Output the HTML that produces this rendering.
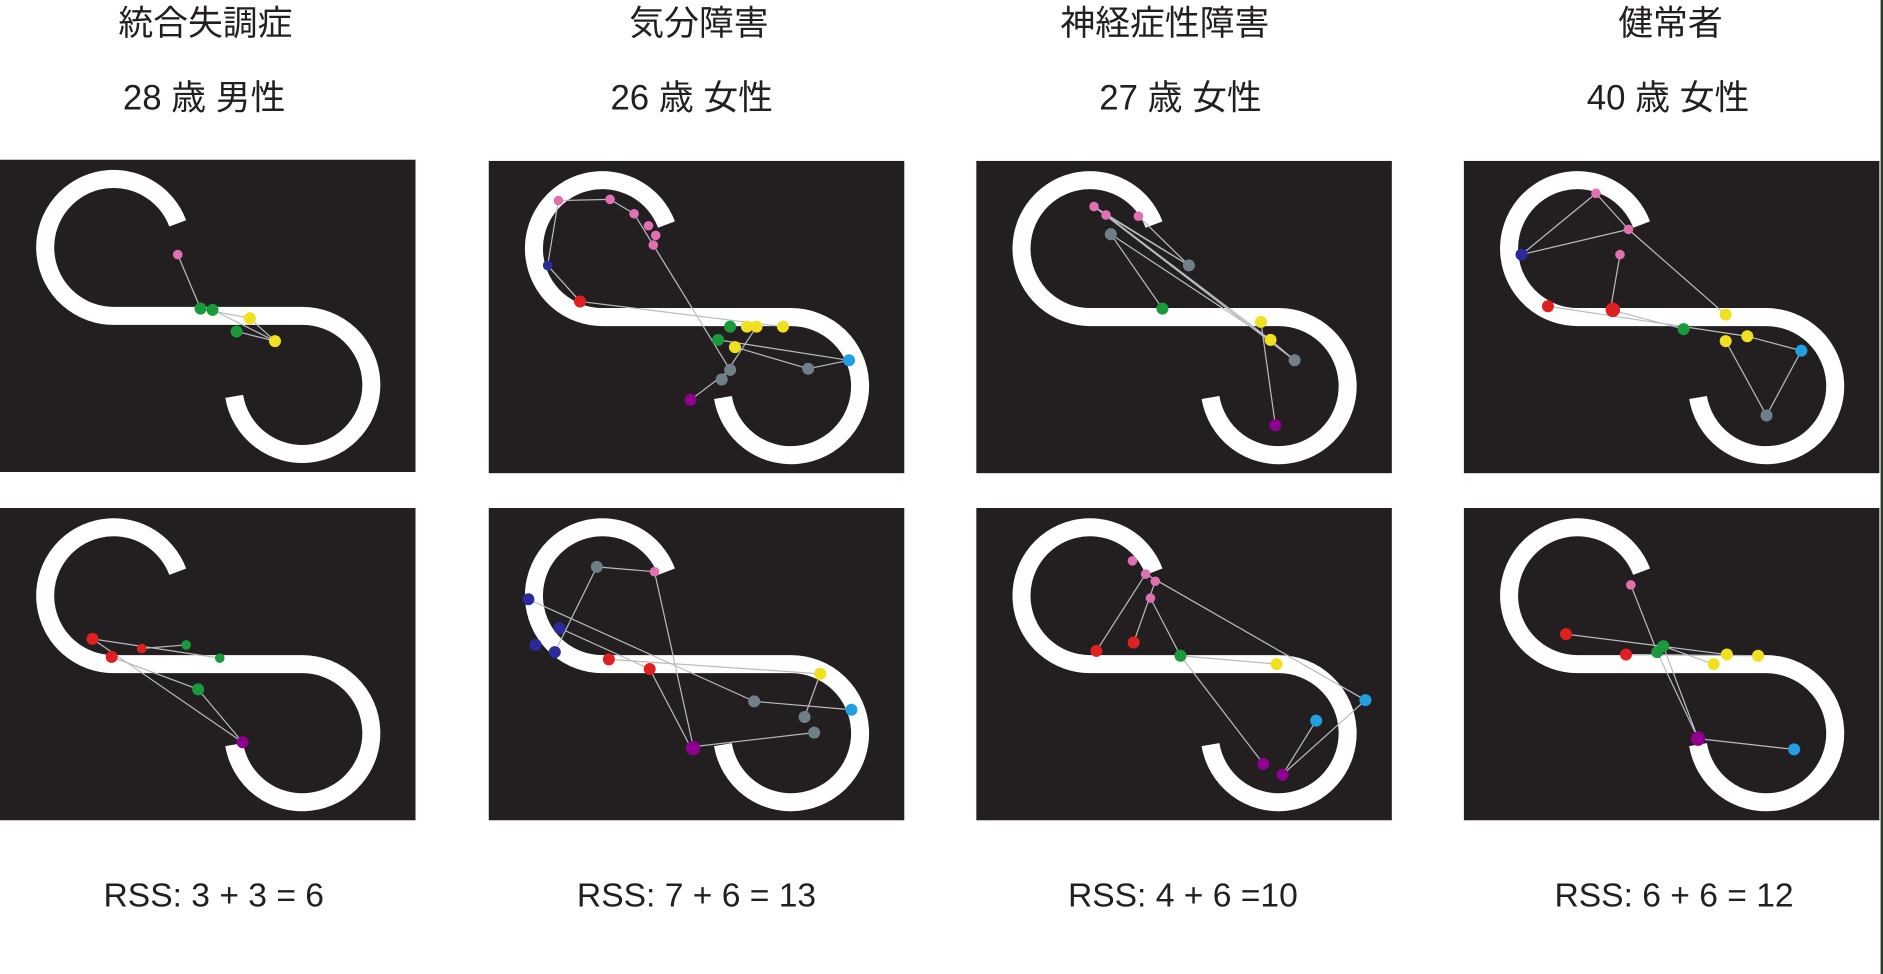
<!DOCTYPE html>
<html><head><meta charset="utf-8"><style>
html,body{margin:0;padding:0;background:#fff;width:1883px;height:974px;overflow:hidden}
svg{display:block}
text{font-family:"Liberation Sans","Noto Sans CJK JP",sans-serif;fill:#231f20}
</style></head><body>
<svg width="1883" height="974" viewBox="0 0 1568 811" preserveAspectRatio="none" xmlns="http://www.w3.org/2000/svg">
<defs>
<g id="S">
<rect x="0" y="0" width="346" height="260" fill="#231f20"/>
<path d="M148,53 A57,57 0 1 0 95,130 L252,130 A57.5,57.5 0 1 1 195,197" fill="none" stroke="#fff" stroke-width="15"/>
</g>
</defs>
<rect x="1566" y="0" width="2" height="811" fill="#2a3a2a"/>
<g text-anchor="middle" font-size="29">
<text x="171" y="29">統合失調症</text>
<text x="582" y="29">気分障害</text>
<text x="970" y="29">神経症性障害</text>
<text x="1391" y="29">健常者</text>
<text x="170" y="91">28 歳 男性</text>
<text x="576" y="91">26 歳 女性</text>
<text x="983" y="91">27 歳 女性</text>
<text x="1389" y="91">40 歳 女性</text>
<text x="178" y="755" font-size="28">RSS: 3 + 3 = 6</text>
<text x="580" y="755" font-size="28">RSS: 7 + 6 = 13</text>
<text x="985" y="755" font-size="28">RSS: 4 + 6 =10</text>
<text x="1394" y="755" font-size="28">RSS: 6 + 6 = 12</text>
</g>
<use href="#S" x="0" y="133"/>
<use href="#S" x="407" y="134"/>
<use href="#S" x="813" y="134"/>
<use href="#S" x="1219" y="134"/>
<use href="#S" x="0" y="423"/>
<use href="#S" x="407" y="423"/>
<use href="#S" x="813" y="423"/>
<use href="#S" x="1219" y="423"/>
<g stroke="#b8bcc0" stroke-width="1" fill="none">
<path d="M148,212L167,257M167,257L208,265M177,258L229,284M208,265L229,284M197,276L229,284"/>
<path d="M77,532L183,548M93,547L165,574M77,532L202,618M165,574L202,618M155,537L118,540"/>
<path d="M465,167L508,166M508,166L528,178M528,178L544,204M465,167L456,221M456,221L483,251M483,251L652,272M544,204L608,308M598,283L707,300M612,289L673,307M673,307L707,300M575,333L608,308M630,272L601,316"/>
<path d="M497,472L545,476M497,472L462,543M545,476L578,625M440,499L628,584M466,523L541,557M507,549L683,561M628,584L709,591M683,561L670,597M575,622L678,610M541,557L575,622"/>
<path d="M911,172L1078,300M921,179L1058,283M925,195L1058,283M990,221L948,180M925,195L968,257M1050,268L1062,354M1058,283L1078,300M911,172L990,221M921,179L990,221"/>
<path d="M954,478L913,542M962,484L944,535M954,478L1137,583M983,546L1063,553M983,546L1052,636M1096,600L1068,645M1137,583L1068,645M958,498L983,546"/>
<path d="M1329,161L1267,212M1329,161L1356,191M1356,191L1267,212M1356,191L1437,262M1349,212L1341,258M1289,255L1455,280M1341,258L1402,274M1437,284L1471,346M1471,346L1500,292M1455,280L1500,292"/>
<path d="M1304,528L1438,545M1358,487L1380,543M1354,545L1464,546M1380,543L1414,615M1414,615L1494,624M1385,538L1427,553M1385,538L1414,615"/>
</g>
<g>
<circle cx="148" cy="212" r="4" fill="#e070b0"/>
<circle cx="167" cy="257" r="5" fill="#1a9a3a"/><circle cx="177" cy="258" r="5" fill="#1a9a3a"/><circle cx="197" cy="276" r="5" fill="#1a9a3a"/>
<circle cx="208" cy="265" r="5" fill="#f0e020"/><circle cx="229" cy="284" r="5" fill="#f0e020"/>
<circle cx="77" cy="532" r="5" fill="#e02020"/><circle cx="93" cy="547" r="5" fill="#e02020"/><circle cx="118" cy="540" r="4" fill="#e02020"/>
<circle cx="155" cy="537" r="4" fill="#1a9a3a"/><circle cx="183" cy="548" r="4" fill="#1a9a3a"/><circle cx="165" cy="574" r="5" fill="#1a9a3a"/>
<circle cx="202" cy="618" r="5" fill="#900090"/>
<circle cx="465" cy="167" r="4" fill="#e070b0"/><circle cx="508" cy="166" r="4" fill="#e070b0"/><circle cx="528" cy="178" r="4" fill="#e070b0"/><circle cx="540" cy="188" r="4" fill="#e070b0"/><circle cx="546" cy="196" r="4" fill="#e070b0"/><circle cx="544" cy="204" r="4" fill="#e070b0"/>
<circle cx="456" cy="221" r="4" fill="#2a2a9a"/><circle cx="483" cy="251" r="5" fill="#e02020"/>
<circle cx="608" cy="272" r="5" fill="#1a9a3a"/><circle cx="598" cy="283" r="5" fill="#1a9a3a"/>
<circle cx="622" cy="272" r="5" fill="#f0e020"/><circle cx="630" cy="272" r="5" fill="#f0e020"/><circle cx="652" cy="272" r="5" fill="#f0e020"/><circle cx="612" cy="289" r="5" fill="#f0e020"/>
<circle cx="707" cy="300" r="5" fill="#20a0e0"/>
<circle cx="673" cy="307" r="5" fill="#708088"/><circle cx="608" cy="308" r="5" fill="#708088"/><circle cx="601" cy="316" r="5" fill="#708088"/>
<circle cx="575" cy="333" r="5" fill="#900090"/>
<circle cx="497" cy="472" r="5" fill="#708088"/><circle cx="545" cy="476" r="4" fill="#e070b0"/>
<circle cx="440" cy="499" r="5" fill="#2a2a9a"/><circle cx="466" cy="523" r="5" fill="#2a2a9a"/><circle cx="446" cy="537" r="5" fill="#2a2a9a"/><circle cx="462" cy="543" r="5" fill="#2a2a9a"/>
<circle cx="507" cy="549" r="5" fill="#e02020"/><circle cx="541" cy="557" r="5" fill="#e02020"/>
<circle cx="683" cy="561" r="5" fill="#f0e020"/><circle cx="709" cy="591" r="5" fill="#20a0e0"/>
<circle cx="628" cy="584" r="5" fill="#708088"/><circle cx="670" cy="597" r="5" fill="#708088"/><circle cx="678" cy="610" r="5" fill="#708088"/>
<circle cx="577" cy="623" r="6" fill="#900090"/>
<circle cx="911" cy="172" r="4" fill="#e070b0"/><circle cx="921" cy="179" r="4" fill="#e070b0"/><circle cx="948" cy="180" r="4" fill="#e070b0"/>
<circle cx="925" cy="195" r="5" fill="#708088"/><circle cx="990" cy="221" r="5" fill="#708088"/><circle cx="1078" cy="300" r="5" fill="#708088"/>
<circle cx="968" cy="257" r="5" fill="#1a9a3a"/>
<circle cx="1050" cy="268" r="5" fill="#f0e020"/><circle cx="1058" cy="283" r="5" fill="#f0e020"/>
<circle cx="1062" cy="354" r="5" fill="#900090"/>
<circle cx="943" cy="467" r="4" fill="#e070b0"/><circle cx="954" cy="478" r="4" fill="#e070b0"/><circle cx="962" cy="484" r="4" fill="#e070b0"/><circle cx="958" cy="498" r="4" fill="#e070b0"/>
<circle cx="913" cy="542" r="5" fill="#e02020"/><circle cx="944" cy="535" r="5" fill="#e02020"/>
<circle cx="983" cy="546" r="5" fill="#1a9a3a"/><circle cx="1063" cy="553" r="5" fill="#f0e020"/>
<circle cx="1137" cy="583" r="5" fill="#20a0e0"/><circle cx="1096" cy="600" r="5" fill="#20a0e0"/>
<circle cx="1052" cy="636" r="5" fill="#900090"/><circle cx="1068" cy="645" r="5" fill="#900090"/>
<circle cx="1329" cy="161" r="4" fill="#e070b0"/><circle cx="1356" cy="191" r="4" fill="#e070b0"/><circle cx="1349" cy="212" r="4" fill="#e070b0"/>
<circle cx="1267" cy="212" r="5" fill="#2a2a9a"/>
<circle cx="1289" cy="255" r="5" fill="#e02020"/><circle cx="1343" cy="258" r="6" fill="#e02020"/>
<circle cx="1402" cy="274" r="5" fill="#1a9a3a"/>
<circle cx="1437" cy="262" r="5" fill="#f0e020"/><circle cx="1455" cy="280" r="5" fill="#f0e020"/><circle cx="1437" cy="284" r="5" fill="#f0e020"/>
<circle cx="1500" cy="292" r="5" fill="#20a0e0"/><circle cx="1471" cy="346" r="5" fill="#708088"/>
<circle cx="1358" cy="487" r="4" fill="#e070b0"/>
<circle cx="1304" cy="528" r="5" fill="#e02020"/><circle cx="1354" cy="545" r="5" fill="#e02020"/>
<circle cx="1380" cy="543" r="5" fill="#1a9a3a"/><circle cx="1385" cy="538" r="5" fill="#1a9a3a"/>
<circle cx="1427" cy="553" r="5" fill="#f0e020"/><circle cx="1438" cy="545" r="5" fill="#f0e020"/><circle cx="1464" cy="546" r="5" fill="#f0e020"/>
<circle cx="1414" cy="615" r="6" fill="#900090"/><circle cx="1494" cy="624" r="5" fill="#20a0e0"/>
</g>
</svg>
</body></html>
